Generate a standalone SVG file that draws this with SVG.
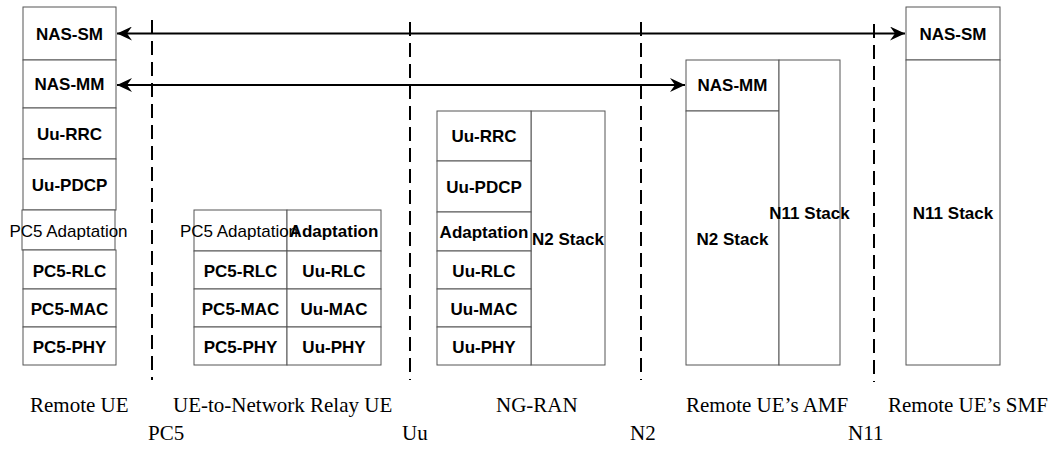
<svg xmlns="http://www.w3.org/2000/svg" width="1053" height="457" viewBox="0 0 1053 457">
<defs>
<style>
.b{fill:#fff;stroke:#555;stroke-width:1}
.t{font-family:"Liberation Sans",Arial,sans-serif;font-size:17px;font-weight:bold;fill:#000;text-anchor:middle}
.r{font-family:"Liberation Sans",Arial,sans-serif;font-size:17px;fill:#000;text-anchor:middle}
.s{font-family:"Liberation Serif","Times New Roman",serif;font-size:21px;fill:#000}
.d{stroke:#000;stroke-width:2;stroke-dasharray:14 7;fill:none}
.a{stroke:#000;stroke-width:2.2;fill:none}
</style>
<marker id="ah" markerUnits="userSpaceOnUse" markerWidth="16" markerHeight="14" viewBox="0 0 16 14" refX="15" refY="7" orient="auto-start-reverse">
<path d="M0,0 L15,7 L0,14 L5,7 z" fill="#000"/>
</marker>
</defs>
<rect width="1053" height="457" fill="#fff"/>

<g id="remote-ue">
<rect class="b" x="23" y="7" width="93" height="53"/>
<rect class="b" x="23" y="60" width="93" height="48"/>
<rect class="b" x="23" y="108" width="93" height="51"/>
<rect class="b" x="23" y="159" width="93" height="51"/>
<rect class="b" x="22" y="210" width="93" height="40"/>
<rect class="b" x="23" y="250" width="93" height="39"/>
<rect class="b" x="23" y="289" width="93" height="38"/>
<rect class="b" x="23" y="327" width="93" height="38"/>
<text class="t" x="69.5" y="39.5">NAS-SM</text>
<text class="t" x="69.5" y="90">NAS-MM</text>
<text class="t" x="69.5" y="139.5">Uu-RRC</text>
<text class="t" x="69.5" y="190.5">Uu-PDCP</text>
<text class="r" x="68.5" y="236.5">PC5 Adaptation</text>
<text class="t" x="69.5" y="277">PC5-RLC</text>
<text class="t" x="69.5" y="315">PC5-MAC</text>
<text class="t" x="69.5" y="353">PC5-PHY</text>
</g>

<g id="relay-ue">
<rect class="b" x="194" y="210" width="93" height="41"/>
<rect class="b" x="287" y="210" width="94" height="41"/>
<rect class="b" x="194" y="251" width="93" height="38"/>
<rect class="b" x="287" y="251" width="94" height="38"/>
<rect class="b" x="194" y="289" width="93" height="38"/>
<rect class="b" x="287" y="289" width="94" height="38"/>
<rect class="b" x="194" y="327" width="93" height="38"/>
<rect class="b" x="287" y="327" width="94" height="38"/>
<text class="r" x="239" y="237">PC5 Adaptation</text>
<text class="t" x="334" y="237">Adaptation</text>
<text class="t" x="240.5" y="277">PC5-RLC</text>
<text class="t" x="334" y="277">Uu-RLC</text>
<text class="t" x="240.5" y="315">PC5-MAC</text>
<text class="t" x="334" y="315">Uu-MAC</text>
<text class="t" x="240.5" y="353">PC5-PHY</text>
<text class="t" x="334" y="353">Uu-PHY</text>
</g>

<g id="ng-ran">
<rect class="b" x="531" y="111" width="74" height="254"/>
<rect class="b" x="437" y="111" width="94" height="50"/>
<rect class="b" x="437" y="161" width="94" height="51"/>
<rect class="b" x="437" y="212" width="94" height="39"/>
<rect class="b" x="437" y="251" width="94" height="38"/>
<rect class="b" x="437" y="289" width="94" height="38"/>
<rect class="b" x="437" y="327" width="94" height="38"/>
<text class="t" x="484" y="142">Uu-RRC</text>
<text class="t" x="484" y="192.5">Uu-PDCP</text>
<text class="t" x="484" y="238">Adaptation</text>
<text class="t" x="484" y="277">Uu-RLC</text>
<text class="t" x="484" y="315">Uu-MAC</text>
<text class="t" x="484" y="353">Uu-PHY</text>
<text class="t" x="568" y="245">N2 Stack</text>
</g>

<g id="amf">
<rect class="b" x="686" y="60" width="93" height="51"/>
<rect class="b" x="686" y="111" width="93" height="254"/>
<rect class="b" x="779" y="60" width="61" height="305"/>
<text class="t" x="732.5" y="91">NAS-MM</text>
<text class="t" x="732.5" y="245">N2 Stack</text>
<text class="t" x="809.5" y="219">N11 Stack</text>
</g>

<g id="smf">
<rect class="b" x="906" y="7" width="94" height="53"/>
<rect class="b" x="906" y="60" width="94" height="305"/>
<text class="t" x="953" y="39.5">NAS-SM</text>
<text class="t" x="953" y="219">N11 Stack</text>
</g>

<g id="connectors">
<line class="d" x1="152" y1="20" x2="152" y2="380"/>
<line class="d" x1="410" y1="22" x2="410" y2="380"/>
<line class="d" x1="641" y1="22" x2="641" y2="380"/>
<line class="d" x1="874" y1="24" x2="874" y2="382"/>
<line class="a" x1="117" y1="33.5" x2="905" y2="33.5" marker-start="url(#ah)" marker-end="url(#ah)"/>
<line class="a" x1="117" y1="85" x2="685" y2="85" marker-start="url(#ah)" marker-end="url(#ah)"/>
</g>

<g id="labels">
<text class="s" x="30" y="411.5">Remote UE</text>
<text class="s" x="173" y="411.5">UE-to-Network Relay UE</text>
<text class="s" x="496" y="411.5">NG-RAN</text>
<text class="s" x="686" y="411.5">Remote UE’s AMF</text>
<text class="s" x="888" y="411.5">Remote UE’s SMF</text>
<text class="s" x="148" y="440">PC5</text>
<text class="s" x="402" y="440">Uu</text>
<text class="s" x="630" y="440">N2</text>
<text class="s" x="848" y="440">N11</text>
</g>
</svg>
